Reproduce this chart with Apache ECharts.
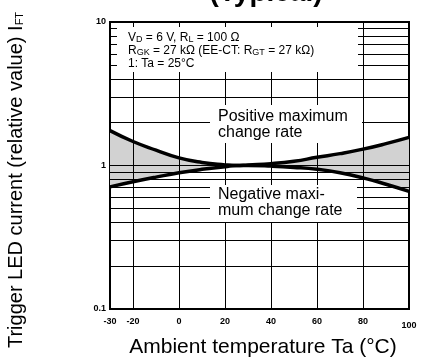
<!DOCTYPE html>
<html>
<head>
<meta charset="utf-8">
<script src="https://cdn.jsdelivr.net/npm/echarts@6/dist/echarts.min.js"></script>
<style>
  html, body { margin: 0; padding: 0; background: #fff; }
  #main { width: 421px; height: 361px; }
</style>
</head>
<body>
<div id="main"></div>
<script>
// ambient temperature (°C) and relative trigger LED current
const temps = [-30, -20, -10, 0, 10, 20, 25, 30, 40, 50, 60, 70, 80, 90, 100];
const positiveRate = [1.75, 1.47, 1.28, 1.13, 1.05, 1.01, 1.0, 1.01, 1.03, 1.07, 1.14, 1.21, 1.3, 1.42, 1.57];
const negativeRate = [0.71, 0.77, 0.83, 0.89, 0.94, 0.98, 1.0, 1.0, 0.99, 0.97, 0.94, 0.89, 0.82, 0.74, 0.66];

const xLabelValues = [-30, -20, 0, 20, 40, 60, 80, 100];
const xGridValues = [-20, 0, 20, 40, 60, 80];
const yGridValues = [0.2, 0.3, 0.4, 0.5, 0.6, 0.7, 0.8, 0.9, 1, 2, 3, 4, 5, 6, 7, 8, 9];

const FONT = 'Liberation Sans';

const chart = echarts.init(document.getElementById('main'));

const toPairs = (vals) => temps.map((t, i) => [t, vals[i]]);

const gridLines = [];
xGridValues.forEach(v => gridLines.push({ xAxis: v }));
yGridValues.forEach(v => gridLines.push({ yAxis: v }));

const option = {
  animation: false,
  backgroundColor: '#fff',
  textStyle: { fontFamily: FONT },
  grid: {
    left: 110, right: 12, top: 22, bottom: 52,
    show: true, borderColor: '#000', borderWidth: 2, backgroundColor: 'transparent'
  },
  xAxis: {
    type: 'value',
    min: -30, max: 100,
    axisLine: { show: false },
    axisTick: { show: false },
    splitLine: { show: false },
    axisLabel: {
      customValues: xLabelValues,
      color: '#000', fontSize: 9, fontWeight: 'bold', fontFamily: FONT, margin: 8,
      formatter: v => v === 100 ? '{low|100}' : String(v),
      rich: { low: { fontSize: 9, fontWeight: 'bold', fontFamily: FONT, color: '#000', padding: [4, 0, 0, 0] } }
    }
  },
  yAxis: {
    type: 'log',
    logBase: 10,
    min: 0.1, max: 10,
    axisLine: { show: false },
    axisTick: { show: false },
    splitLine: { show: false },
    axisLabel: {
      color: '#000', fontSize: 9, fontWeight: 'bold', fontFamily: FONT, margin: 4,
      formatter: v => v >= 1 ? String(Math.round(v)) : '0.1'
    }
  },
  graphic: [
    {
      type: 'text', z: 20, x: 266, y: -7,
      style: { text: '(Typical)', fontSize: 28, fontWeight: 'bold', fontFamily: FONT, fill: '#000', align: 'center', verticalAlign: 'middle' }
    },
    {
      type: 'text', z: 20, rotation: Math.PI / 2, x: 16, y: 180,
      style: {
        text: '{n|Trigger LED current (relative value) I}{s|FT}',
        align: 'center', verticalAlign: 'middle',
        rich: {
          n: { fontSize: 20, fontFamily: FONT, fill: '#000' },
          s: { fontSize: 11, fontFamily: FONT, fill: '#000', padding: [7, 0, 0, 0] }
        }
      }
    },
    {
      type: 'text', z: 20, x: 263, y: 347,
      style: { text: 'Ambient temperature Ta (°C)', fontSize: 21, fontFamily: FONT, fill: '#000', align: 'center', verticalAlign: 'middle' }
    },
    // white boxes behind annotations
    { type: 'rect', z: 8, shape: { x: 117, y: 27, width: 241, height: 45 }, style: { fill: '#fff' } },
    { type: 'rect', z: 8, shape: { x: 210, y: 105, width: 152, height: 38 }, style: { fill: '#fff' } },
    { type: 'rect', z: 8, shape: { x: 210, y: 185, width: 147, height: 37 }, style: { fill: '#fff' } },
    {
      type: 'text', z: 9, x: 128, y: 31,
      style: {
        text: [
          '{n|V}{s|D}{n| = 6 V, R}{s|L}{n| = 100 Ω}',
          '{n|R}{s|GK}{n| = 27 kΩ (EE-CT: R}{s|GT}{n| = 27 kΩ)}',
          '{n|1: Ta = 25°C}'
        ].join('\n'),
        rich: {
          n: { fontSize: 12, fontFamily: FONT, fill: '#000', lineHeight: 13 },
          s: { fontSize: 9, fontFamily: FONT, fill: '#000', lineHeight: 13, padding: [5, 0, 0, 0] }
        }
      }
    },
    {
      type: 'text', z: 9, x: 218, y: 109,
      style: { text: 'Positive maximum\nchange rate', fontSize: 16, lineHeight: 16, fontFamily: FONT, fill: '#000' }
    },
    {
      type: 'text', z: 9, x: 218, y: 187,
      style: { text: 'Negative maxi-\nmum change rate', fontSize: 16, lineHeight: 16, fontFamily: FONT, fill: '#000' }
    }
  ],
  series: [
    {
      name: 'grid', type: 'line', data: [], z: 3, silent: true,
      markLine: {
        silent: true, symbol: 'none', z: 5,
        label: { show: false },
        lineStyle: { color: '#000', width: 1, type: 'solid' },
        data: gridLines
      }
    },
    {
      name: 'posArea', type: 'line', data: toPairs(positiveRate), smooth: true, symbol: 'none', z: 2, silent: true,
      lineStyle: { width: 0, opacity: 0 },
      areaStyle: { color: '#d2d2d2', opacity: 1, origin: 1 }
    },
    {
      name: 'negArea', type: 'line', data: toPairs(negativeRate), smooth: true, symbol: 'none', z: 2, silent: true,
      lineStyle: { width: 0, opacity: 0 },
      areaStyle: { color: '#d2d2d2', opacity: 1, origin: 1 }
    },
    {
      name: 'Positive maximum change rate', type: 'line', data: toPairs(positiveRate), smooth: true, symbol: 'none', z: 10,
      lineStyle: { color: '#000', width: 3.5 }
    },
    {
      name: 'Negative maximum change rate', type: 'line', data: toPairs(negativeRate), smooth: true, symbol: 'none', z: 10,
      lineStyle: { color: '#000', width: 3.5 }
    }
  ]
};

chart.setOption(option);
</script>
</body>
</html>
